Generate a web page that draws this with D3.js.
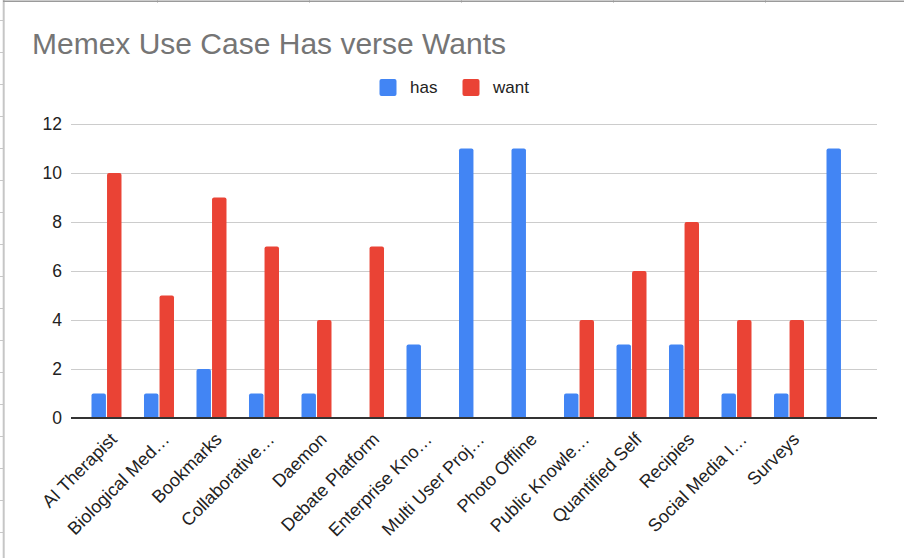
<!DOCTYPE html>
<html>
<head>
<meta charset="utf-8">
<script src="https://cdn.jsdelivr.net/npm/d3@7"></script>
<style>
  html, body { margin: 0; padding: 0; background: #fff; }
  svg { display: block; font-family: "Liberation Sans", Arial, sans-serif; }
</style>
</head>
<body>
<svg id="chart" width="904" height="558"></svg>
<script>
const title = "Memex Use Case Has verse Wants";
const categories = ["AI Therapist", "Biological Med…", "Bookmarks", "Collaborative…", "Daemon",
  "Debate Platform", "Enterprise Kno…", "Multi User Proj…", "Photo Offline", "Public Knowle…",
  "Quantified Self", "Recipies", "Social Media I…", "Surveys", ""];
const seriesNames = ["has", "want"];
const hasValues  = [1, 1, 2, 1, 1, 0, 3, 11, 11, 1, 3, 3, 1, 1, 11];
const wantValues = [10, 5, 9, 7, 4, 7, 0, 0, 0, 4, 6, 8, 4, 4, 0];
const yTicks = [0, 2, 4, 6, 8, 10, 12];
const colors = ["#4285F4", "#EA4335"];

const svg = d3.select("#chart");
const W = 904, H = 558;

// spreadsheet frame
const frame = svg.append("g");
frame.selectAll("line.rowtick").data(d3.range(20, H, 32)).join("line")
  .attr("x1", 0).attr("x2", 3).attr("y1", d => d + 0.5).attr("y2", d => d + 0.5)
  .attr("stroke", "#c8c8c8").attr("stroke-width", 1);
frame.selectAll("line.coltick").data(d3.range(157, W, 152)).join("line")
  .attr("x1", d => d + 0.5).attr("x2", d => d + 0.5).attr("y1", 0).attr("y2", 3)
  .attr("stroke", "#cfcfcf").attr("stroke-width", 1);
frame.append("line").attr("x1", 3.7).attr("x2", 3.7).attr("y1", 0).attr("y2", H)
  .attr("stroke", "#c6c6c6").attr("stroke-width", 2);
frame.append("line").attr("x1", 3).attr("x2", W).attr("y1", 1.3).attr("y2", 1.3)
  .attr("stroke", "#9a9a9a").attr("stroke-width", 1.6);

// scales
const plotLeft = 71, plotRight = 877;
const y = d3.scaleLinear().domain([0, 12]).range([418, 124]);
const x = d3.scaleBand().domain(d3.range(categories.length))
  .range([plotLeft, plotRight]).paddingInner(0).paddingOuter(0.176);
const x1 = d3.scaleBand().domain([0, 1]).range([-15, 15]).paddingInner(0.07);

// title
svg.append("text").attr("x", 32).attr("y", 54)
  .attr("font-size", 30).attr("fill", "#757575").text(title);

// legend
const legend = svg.append("g");
const legendX = [379.5, 462.5];
seriesNames.forEach((name, i) => {
  legend.append("rect").attr("x", legendX[i]).attr("y", 79).attr("width", 17).attr("height", 17)
    .attr("rx", 2).attr("fill", colors[i]);
  legend.append("text").attr("x", legendX[i] + 30.5).attr("y", 87.5).attr("dy", "0.35em")
    .attr("font-size", 17).attr("fill", "#222").text(name);
});

// gridlines
const yAxis = d3.axisLeft(y).tickValues(yTicks).tickSize(-(plotRight - plotLeft)).tickPadding(9);
const gy = svg.append("g").attr("transform", `translate(${plotLeft},0)`).call(yAxis);
gy.select(".domain").remove();
gy.selectAll(".tick line").attr("stroke", "#cccccc").attr("stroke-width", 1);
gy.selectAll(".tick text").attr("font-size", 17.5).attr("fill", "#222")
  .attr("font-family", "'Liberation Sans', Arial, sans-serif");

// bars
function topRounded(x0, y0, w, h, r) {
  if (h <= 0) return "";
  r = Math.min(r, h, w / 2);
  return `M${x0},${y0 + h}V${y0 + r}Q${x0},${y0} ${x0 + r},${y0}H${x0 + w - r}Q${x0 + w},${y0} ${x0 + w},${y0 + r}V${y0 + h}Z`;
}
const rows = categories.map((c, i) => ({ i, vals: [hasValues[i], wantValues[i]] }));
const groups = svg.append("g").selectAll("g").data(rows).join("g")
  .attr("transform", d => `translate(${x(d.i) + x.bandwidth() / 2},0)`);
groups.selectAll("path").data(d => d.vals.map((v, s) => ({ v, s }))).join("path")
  .attr("d", d => topRounded(x1(d.s), y(d.v), x1.bandwidth(), y(0) - y(d.v), 2))
  .attr("fill", d => colors[d.s]);

// x axis baseline
svg.append("line").attr("x1", plotLeft).attr("x2", plotRight).attr("y1", y(0)).attr("y2", y(0))
  .attr("stroke", "#333").attr("stroke-width", 2);

// x labels
svg.append("g").selectAll("text").data(categories).join("text")
  .attr("transform", (d, i) => `translate(${x(i) + x.bandwidth() / 2 + 7},436) rotate(-45)`)
  .attr("text-anchor", "end").attr("dy", "0.35em")
  .attr("font-size", 18).attr("fill", "#222").text(d => d);
</script>
</body>
</html>
